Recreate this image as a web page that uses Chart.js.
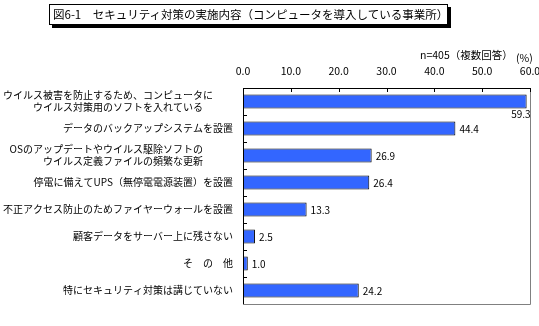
<!DOCTYPE html>
<html><head><meta charset="utf-8">
<script src="https://cdn.jsdelivr.net/npm/chart.js@4.4.1/dist/chart.umd.min.js"></script>
<style>
html,body{margin:0;padding:0;background:#fff;}
#wrap{position:relative;width:539px;height:326px;overflow:hidden;font-family:"Noto Sans CJK JP",sans-serif;}
#c{position:absolute;left:0;top:0;}
#title{position:absolute;left:49px;top:4px;width:394px;height:19px;border:1px solid #000;background:#fff;box-shadow:3px 3px 0 #000;font-size:11.5px;line-height:19px;padding-left:3px;white-space:nowrap;color:#000;}
.note{position:absolute;font-size:10.5px;color:#000;white-space:nowrap;}
</style></head><body>
<div id="wrap">
<canvas id="c" width="539" height="326"></canvas>
<div id="title">図6-1　セキュリティ対策の実施内容（コンピュータを導入している事業所）</div>
<div class="note" style="left:420px;top:47px;">n=405（複数回答）</div>
<div class="note" style="left:516px;top:50px;">(%)</div>
</div>
<script>
const categories = [
  ["ウイルス被害を防止するため、コンピュータに　　", "ウイルス対策用のソフトを入れている　　　"],
  "データのバックアップシステムを設置",
  ["OSのアップデートやウイルス駆除ソフトの　　　", "ウイルス定義ファイルの頻繁な更新　　　"],
  "停電に備えてUPS（無停電電源装置）を設置",
  "不正アクセス防止のためファイヤーウォールを設置",
  "顧客データをサーバー上に残さない",
  "そ　の　他",
  "特にセキュリティ対策は講じていない"
];
const values = [59.3, 44.4, 26.9, 26.4, 13.3, 2.5, 1.0, 24.2];
const tickValues = [0, 10, 20, 30, 40, 50, 60];

const FONT = '"Noto Sans CJK JP", sans-serif';

const decor = {
  id: 'decor',
  afterDatasetsDraw(chart) {
    const ctx = chart.ctx, a = chart.chartArea;
    const xs = chart.scales.x, ys = chart.scales.y;
    ctx.save();
    ctx.strokeStyle = '#808080'; ctx.lineWidth = 1;
    ctx.beginPath();
    ctx.moveTo(Math.round(a.right) + 0.5, a.top);
    ctx.lineTo(Math.round(a.right) + 0.5, a.bottom + 0.5);
    ctx.lineTo(a.left, a.bottom + 0.5);
    ctx.stroke();
    ctx.strokeStyle = '#000';
    ctx.beginPath();
    tickValues.forEach(v => {
      const x = Math.round(xs.getPixelForValue(v)) + 0.5;
      ctx.moveTo(x, a.top); ctx.lineTo(x, a.top + 4);
    });
    for (let i = 0; i < categories.length - 1; i++) {
      const y = Math.round((ys.getPixelForValue(i) + ys.getPixelForValue(i + 1)) / 2) + 0.5;
      ctx.moveTo(a.left, y); ctx.lineTo(a.left + 4, y);
    }
    ctx.stroke();
    ctx.fillStyle = '#000';
    ctx.font = '10px ' + FONT;
    const meta = chart.getDatasetMeta(0);
    meta.data.forEach((bar, i) => {
      const txt = values[i].toFixed(1);
      const w = ctx.measureText(txt).width;
      if (bar.x + 4 + w > chart.width) {
        ctx.textAlign = 'right'; ctx.textBaseline = 'top';
        ctx.fillText(txt, bar.x + 4, bar.y + bar.height / 2 + 1);
      } else {
        ctx.textAlign = 'left'; ctx.textBaseline = 'middle';
        ctx.fillText(txt, bar.x + 4, bar.y + 1);
      }
    });
    ctx.restore();
  }
};

new Chart(document.getElementById('c'), {
  type: 'bar',
  data: {
    labels: categories,
    datasets: [{
      data: values,
      backgroundColor: '#3366FF',
      borderColor: '#000',
      borderWidth: 1,
      borderSkipped: false,
      categoryPercentage: 1,
      barPercentage: 0.51
    }]
  },
  options: {
    indexAxis: 'y',
    responsive: false,
    animation: false,
    layout: { padding: { left: 0, right: 9, top: 0, bottom: 1 } },
    plugins: { legend: { display: false }, tooltip: { enabled: false } },
    scales: {
      x: {
        position: 'top',
        min: 0, max: 60,
        afterBuildTicks(s) { s.ticks = tickValues.map(v => ({ value: v })); },
        afterFit(s) { s.height = 88; s.paddingRight = 0; s.paddingLeft = 0; },
        grid: { display: false, drawTicks: false },
        border: { display: true, color: '#000', width: 1 },
        ticks: {
          padding: 11,
          color: '#000',
          font: { family: FONT, size: 10.5 },
          callback: v => Number(v).toFixed(1),
          maxRotation: 0
        }
      },
      y: {
        afterFit(s) { s.width = 243; },
        grid: { display: false, drawTicks: false },
        border: { display: true, color: '#000', width: 1 },
        ticks: {
          padding: 10,
          color: '#000',
          autoSkip: false,
          font: { family: FONT, size: 10, lineHeight: 1.2 }
        }
      }
    }
  },
  plugins: [decor]
});
</script>
</body></html>
